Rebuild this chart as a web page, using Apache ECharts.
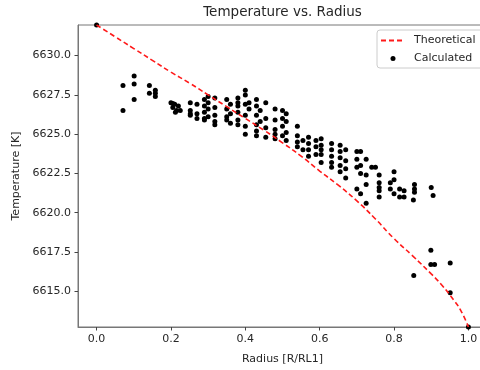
<!DOCTYPE html>
<html>
<head>
<meta charset="utf-8">
<script src="https://cdn.jsdelivr.net/npm/echarts@6/dist/echarts.min.js"></script>
<style>html,body{margin:0;padding:0;background:#fff;overflow:hidden;width:480px;height:370px;}#c{width:495px;height:370px;}</style>
</head>
<body>
<div id="c"></div>
<script>
// Theoretical curve
var theoX = [0, 0.05, 0.1, 0.15, 0.2, 0.25, 0.3, 0.35, 0.4, 0.45, 0.5, 0.55, 0.6, 0.65, 0.7, 0.75, 0.8, 0.85, 0.9, 0.93, 0.96, 0.98, 1.0];
var theoT = [6631.95, 6631.2, 6630.45, 6629.7, 6628.95, 6628.25, 6627.5, 6626.75, 6626.0, 6625.25, 6624.45, 6623.6, 6622.65, 6621.75, 6620.75, 6619.6, 6618.35, 6617.25, 6616.1, 6615.35, 6614.45, 6613.75, 6612.72];

// Calculated points
var calcX = [
  0, 1.0,
  0.071, 0.071,
  0.101, 0.101, 0.101,
  0.142, 0.142,
  0.158, 0.158, 0.158,
  0.20, 0.205, 0.21, 0.215, 0.22, 0.212, 0.225, 0.205,
  0.252, 0.252, 0.252, 0.252,
  0.27, 0.27, 0.27,
  0.29, 0.29, 0.29, 0.29, 0.29,
  0.30, 0.30, 0.30, 0.30,
  0.318, 0.318, 0.318, 0.318, 0.318,
  0.35, 0.35, 0.35, 0.35,
  0.36, 0.36, 0.36,
  0.38, 0.38, 0.38, 0.38, 0.38, 0.38,
  0.40, 0.40, 0.40, 0.40, 0.40, 0.40,
  0.41, 0.41,
  0.43, 0.43, 0.43, 0.43, 0.43, 0.43,
  0.44, 0.44,
  0.455, 0.455, 0.455, 0.455,
  0.48, 0.48, 0.48, 0.48, 0.48,
  0.50, 0.50, 0.50, 0.50,
  0.51, 0.51, 0.51, 0.51,
  0.54, 0.54, 0.54, 0.54,
  0.555, 0.555,
  0.57, 0.57, 0.57, 0.57,
  0.59, 0.59, 0.59,
  0.604, 0.604, 0.604, 0.604, 0.604,
  0.632, 0.632, 0.632, 0.632, 0.632,
  0.655, 0.655, 0.655, 0.655, 0.655,
  0.67, 0.67, 0.67, 0.67,
  0.70, 0.70, 0.70, 0.70,
  0.71, 0.71, 0.71, 0.71,
  0.725, 0.725, 0.725, 0.725,
  0.74, 0.75,
  0.76, 0.76, 0.76, 0.76, 0.76,
  0.79, 0.79,
  0.80, 0.80, 0.80,
  0.815, 0.815,
  0.827, 0.827,
  0.855, 0.855, 0.855, 0.852,
  0.90, 0.905,
  0.853, 0.899, 0.899, 0.909, 0.951, 0.951
];
var calcT = [
  6631.95, 6612.72,
  6628.1, 6626.5,
  6628.7, 6628.2, 6627.2,
  6628.1, 6627.6,
  6627.8, 6627.6, 6627.4,
  6627.0, 6626.7, 6626.9, 6626.5, 6626.8, 6626.4, 6626.5, 6626.95,
  6627.0, 6626.5, 6626.2, 6626.3,
  6626.9, 6626.3, 6626.0,
  6627.2, 6626.8, 6626.4, 6626.0, 6625.9,
  6627.4, 6627.0, 6626.6, 6626.1,
  6627.3, 6626.7, 6626.2, 6625.8, 6625.6,
  6627.2, 6626.6, 6626.1, 6625.9,
  6626.9, 6626.3, 6625.7,
  6627.3, 6626.8, 6626.4, 6625.9, 6625.6, 6627.0,
  6627.8, 6627.5, 6626.9, 6626.2, 6625.5, 6625.0,
  6627.0, 6626.6,
  6627.2, 6626.8, 6626.2, 6625.6, 6625.2, 6624.9,
  6626.5, 6625.8,
  6627.0, 6626.0, 6625.4, 6624.8,
  6626.6, 6625.9, 6625.3, 6625.0, 6624.7,
  6626.5, 6626.0, 6625.5, 6624.9,
  6626.3, 6625.8, 6625.1, 6624.6,
  6625.5, 6624.9, 6624.5, 6624.2,
  6624.6, 6624.0,
  6624.8, 6624.4, 6624.0, 6623.6,
  6624.6, 6624.2, 6623.7,
  6624.7, 6624.3, 6624.0, 6623.7, 6623.2,
  6624.4, 6624.0, 6623.6, 6623.2, 6622.9,
  6624.3, 6623.9, 6623.5, 6623.0, 6622.6,
  6624.0, 6623.3, 6622.8, 6622.2,
  6623.9, 6623.4, 6622.9, 6621.5,
  6623.9, 6623.0, 6622.5, 6621.2,
  6623.4, 6622.4, 6621.8, 6620.6,
  6622.9, 6622.9,
  6622.4, 6621.9, 6621.6, 6621.4, 6621.0,
  6621.9, 6621.5,
  6622.6, 6622.1, 6621.2,
  6621.5, 6621.0,
  6621.4, 6621.0,
  6621.8, 6621.5, 6621.3, 6620.8,
  6621.6, 6621.1,
  6616.0, 6617.6, 6616.7, 6616.7, 6616.8, 6614.9
];

var xTicks = [0.0, 0.2, 0.4, 0.6, 0.8, 1.0];
var yTicks = [6615.0, 6617.5, 6620.0, 6622.5, 6625.0, 6627.5, 6630.0];

var theoData = theoX.map(function (x, i) { return [x, theoT[i]]; });
var calcData = calcX.map(function (x, i) { return [x, calcT[i]]; });

var FONT = 'DejaVu Sans';
var TXT = '#262626';
var LINE = '#777';

var chart = echarts.init(document.getElementById('c'), null, { renderer: 'canvas' });
chart.setOption({
  animation: false,
  backgroundColor: '#fff',
  textStyle: { fontFamily: FONT },
  title: {
    text: 'Temperature vs. Radius',
    left: 282.5,
    top: 5,
    padding: 0,
    textAlign: 'center',
    textStyle: { fontFamily: FONT, fontSize: 13.5, fontWeight: 'normal', color: TXT }
  },
  grid: {
    left: 78, top: 25, width: 409, height: 303,
    show: true, borderColor: LINE, borderWidth: 1, backgroundColor: 'transparent'
  },
  legend: {
    orient: 'vertical',
    left: 377,
    top: 30,
    padding: [4, 10, 3, 3],
    itemGap: 5,
    itemWidth: 24,
    itemHeight: 5,
    backgroundColor: '#fff',
    borderColor: '#ccc',
    borderWidth: 1,
    borderRadius: 3,
    textStyle: { fontFamily: FONT, fontSize: 11, color: TXT, lineHeight: 13, padding: [0, 0, 0, 4] },
    data: [
      { name: 'Theoretical', itemStyle: { color: 'rgba(0,0,0,0)', borderColor: 'rgba(0,0,0,0)', borderWidth: 0 } },
      { name: 'Calculated' }
    ]
  },
  xAxis: {
    type: 'value',
    min: -0.05,
    max: 1.05,
    name: 'Radius [R/RL1]',
    nameLocation: 'middle',
    nameGap: 27,
    nameTextStyle: { fontFamily: FONT, fontSize: 11, color: TXT },
    splitLine: { show: false },
    axisLine: { show: true, onZero: false, lineStyle: { color: LINE, width: 1 } },
    axisTick: { show: true, inside: false, length: 3.5, lineStyle: { color: '#444' }, customValues: xTicks },
    axisLabel: {
      fontFamily: FONT, fontSize: 11, color: TXT, margin: 7,
      customValues: xTicks,
      formatter: function (v) { return v.toFixed(1); }
    }
  },
  yAxis: {
    type: 'value',
    min: 6612.72,
    max: 6631.95,
    name: 'Temperature [K]',
    nameLocation: 'middle',
    nameGap: 56,
    nameTextStyle: { fontFamily: FONT, fontSize: 11, color: TXT },
    splitLine: { show: false },
    axisLine: { show: true, onZero: false, lineStyle: { color: LINE, width: 1 } },
    axisTick: { show: true, inside: false, length: 3.5, lineStyle: { color: '#444' }, customValues: yTicks },
    axisLabel: {
      fontFamily: FONT, fontSize: 11, color: TXT, margin: 7,
      customValues: yTicks,
      formatter: function (v) { return v.toFixed(1); }
    }
  },
  series: [
    {
      name: 'Theoretical',
      type: 'line',
      data: theoData,
      showSymbol: false,
      symbol: 'none',
      smooth: true,
      clip: true,
      lineStyle: { color: '#ff1a1a', width: 1.6, type: [5, 3] },
      itemStyle: { color: '#ff1a1a' },
      z: 3
    },
    {
      name: 'Calculated',
      type: 'scatter',
      data: calcData,
      symbol: 'circle',
      symbolSize: 5,
      clip: true,
      itemStyle: { color: '#000', opacity: 1 },
      z: 2
    }
  ]
});
</script>
</body>
</html>
